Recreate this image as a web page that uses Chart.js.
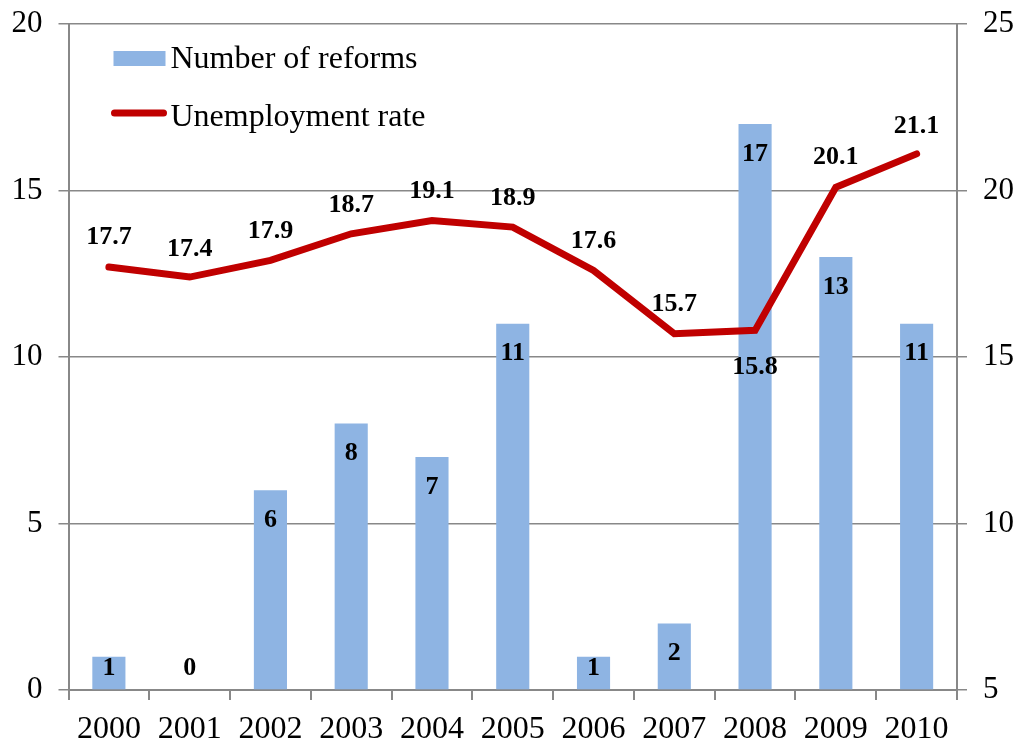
<!DOCTYPE html>
<html>
<head>
<meta charset="utf-8">
<title>Reforms and unemployment</title>
<script src="https://cdn.jsdelivr.net/npm/chart.js@4.4.1/dist/chart.umd.min.js"></script>
<style>
  html, body { margin: 0; padding: 0; background: #fff; }
  #wrap { width: 1018px; height: 742px; }
</style>
</head>
<body>
<div id="wrap"><canvas id="chart"></canvas></div>
<script>
// data
const years = ["2000", "2001", "2002", "2003", "2004", "2005", "2006", "2007", "2008", "2009", "2010"];
const reforms = [1, 0, 6, 8, 7, 11, 1, 2, 17, 13, 11];
const unemployment = [17.7, 17.4, 17.9, 18.7, 19.1, 18.9, 17.6, 15.7, 15.8, 20.1, 21.1];

const leftTicks = { min: 0, max: 20, step: 5 };
const rightTicks = { min: 5, max: 25, step: 5 };

// label placement for the line: negative = above the point
const lineLabelShift = [-30, -28, -29, -29, -29, -29, -29, -29, 37, -30, -28];

const FONT = "'Liberation Serif', 'Times New Roman', serif";
const BAR_COLOR = "#8EB4E3";
const LINE_COLOR = "#C00000";
const GRID_COLOR = "#888888";

// draws value labels on bars and the line
const valueLabels = {
  id: "valueLabels",
  afterDatasetsDraw(chart) {
    let ctx = chart.ctx;
    let area = chart.chartArea;
    ctx.save();
    ctx.fillStyle = "#000";
    ctx.textAlign = "center";
    ctx.textBaseline = "middle";
    ctx.font = "bold 26px " + FONT;

    chart.getDatasetMeta(0).data.forEach((bar, i) => {
      let y = Math.min(bar.y + 30, area.bottom - 22);
      ctx.fillText(String(reforms[i]), bar.x, y);
    });

    chart.getDatasetMeta(1).data.forEach((pt, i) => {
      ctx.fillText(unemployment[i].toFixed(1), pt.x, pt.y + lineLabelShift[i]);
    });
    ctx.restore();
  }
};

// legend sits inside the plot area, top left
const innerLegend = {
  id: "innerLegend",
  afterDraw(chart) {
    let ctx = chart.ctx;
    let a = chart.chartArea;
    let x0 = a.left + 45;
    ctx.save();
    ctx.fillStyle = BAR_COLOR;
    ctx.fillRect(x0, a.top + 27, 52, 15);

    ctx.strokeStyle = LINE_COLOR;
    ctx.lineWidth = 7;
    ctx.lineCap = "round";
    ctx.beginPath();
    ctx.moveTo(x0 + 1, a.top + 89);
    ctx.lineTo(x0 + 50, a.top + 89);
    ctx.stroke();

    ctx.fillStyle = "#000";
    ctx.font = "32px " + FONT;
    ctx.textAlign = "left";
    ctx.textBaseline = "middle";
    ctx.fillText("Number of reforms", x0 + 57, a.top + 36);
    ctx.fillText("Unemployment rate", x0 + 57, a.top + 94);
    ctx.restore();
  }
};

// keep the plot area where the reference has it
function fixWidth(w) {
  return function (scale) {
    scale.width = w;
    scale.paddingTop = 0;
    scale.paddingBottom = 0;
  };
}

let ctx = document.getElementById("chart").getContext("2d");

new Chart(ctx, {
  type: "bar",
  data: {
    labels: years,
    datasets: [
      {
        type: "bar",
        label: "Number of reforms",
        data: reforms,
        backgroundColor: BAR_COLOR,
        yAxisID: "y",
        categoryPercentage: 1.0,
        barPercentage: 0.41,
        order: 2
      },
      {
        type: "line",
        label: "Unemployment rate",
        data: unemployment,
        borderColor: LINE_COLOR,
        borderWidth: 7,
        borderCapStyle: "round",
        borderJoinStyle: "miter",
        pointRadius: 0,
        tension: 0,
        yAxisID: "y1",
        order: 1
      }
    ]
  },
  options: {
    responsive: true,
    maintainAspectRatio: false,
    animation: false,
    layout: { padding: { top: 24, left: 0, right: 0, bottom: 0 } },
    plugins: {
      legend: { display: false },
      tooltip: { enabled: false }
    },
    scales: {
      x: {
        offset: true,
        grid: {
          offset: true,
          drawOnChartArea: false,
          drawTicks: true,
          tickLength: 10,
          color: GRID_COLOR,
          lineWidth: 2
        },
        border: { color: GRID_COLOR, width: 2 },
        ticks: {
          color: "#000",
          font: { family: FONT, size: 32 },
          padding: 10,
          maxRotation: 0,
          autoSkip: false
        },
        afterFit: function (scale) {
          scale.height = 52;
          scale.paddingLeft = 0;
          scale.paddingRight = 0;
        }
      },
      y: {
        position: "left",
        min: leftTicks.min,
        max: leftTicks.max,
        grid: {
          color: GRID_COLOR,
          lineWidth: 1.5,
          tickLength: 10
        },
        border: { color: GRID_COLOR, width: 2 },
        ticks: {
          stepSize: leftTicks.step,
          color: "#000",
          font: { family: FONT, size: 31 },
          padding: 16
        },
        afterFit: fixWidth(68.5)
      },
      y1: {
        position: "right",
        min: rightTicks.min,
        max: rightTicks.max,
        grid: {
          drawOnChartArea: false,
          color: GRID_COLOR,
          lineWidth: 1.5,
          tickLength: 10
        },
        border: { color: GRID_COLOR, width: 2 },
        ticks: {
          stepSize: rightTicks.step,
          color: "#000",
          font: { family: FONT, size: 31 },
          padding: 16
        },
        afterFit: fixWidth(61)
      }
    }
  },
  plugins: [valueLabels, innerLegend]
});
</script>
</body>
</html>
